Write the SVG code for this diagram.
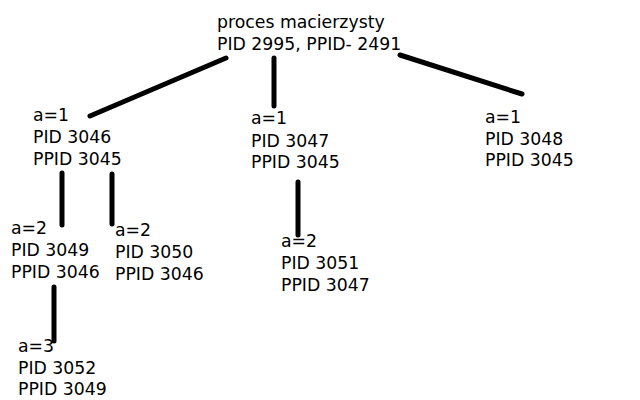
<svg xmlns="http://www.w3.org/2000/svg" width="640" height="400" viewBox="0 0 640 400">
<style>
text{font-family:"DejaVu Sans",sans-serif;font-size:17.3px;fill:#000}
.c line{stroke:#000;stroke-width:5;stroke-linecap:round}
</style>
<rect width="640" height="400" fill="#fff"/>
<g class="c" id="connectors">
<line x1="226" y1="58" x2="90" y2="116"/>
<line x1="274" y1="58" x2="274" y2="106"/>
<line x1="400" y1="55" x2="522" y2="94"/>
<line x1="62" y1="173" x2="62" y2="225"/>
<line x1="112" y1="174" x2="112" y2="224"/>
<line x1="298" y1="182" x2="298" y2="235"/>
<line x1="54" y1="287" x2="54" y2="341"/>
</g>
<g id="root"><text x="217" y="28">proces macierzysty</text><text x="217" y="50">PID 2995, PPID- 2491</text></g>
<g id="p3046"><text x="33" y="121">a=1</text><text x="33" y="143">PID 3046</text><text x="33" y="164.5">PPID 3045</text></g>
<g id="p3047"><text x="251" y="124">a=1</text><text x="251" y="146.5">PID 3047</text><text x="251" y="168">PPID 3045</text></g>
<g id="p3048"><text x="485" y="122.5">a=1</text><text x="485" y="144.5">PID 3048</text><text x="485" y="166">PPID 3045</text></g>
<g id="p3049"><text x="11" y="234">a=2</text><text x="11" y="256">PID 3049</text><text x="11" y="278">PPID 3046</text></g>
<g id="p3050"><text x="115" y="236">a=2</text><text x="115" y="258">PID 3050</text><text x="115" y="280">PPID 3046</text></g>
<g id="p3051"><text x="281" y="247">a=2</text><text x="281" y="269">PID 3051</text><text x="281" y="291">PPID 3047</text></g>
<g id="p3052"><text x="18" y="352">a=3</text><text x="18" y="373.5">PID 3052</text><text x="18" y="395">PPID 3049</text></g>
</svg>
